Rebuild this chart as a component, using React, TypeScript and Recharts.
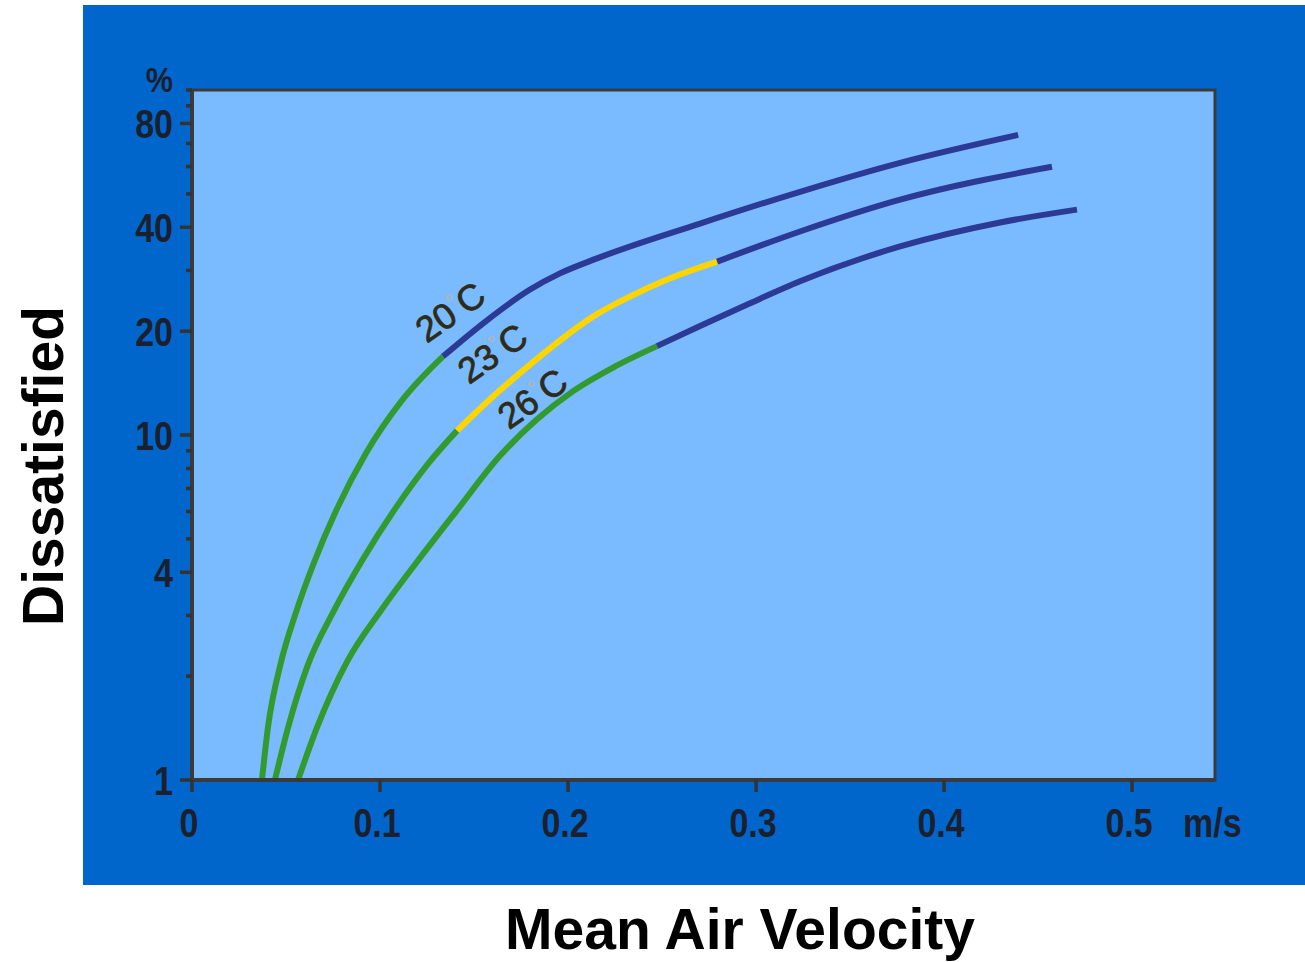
import { LineChart, Line, XAxis, YAxis, CartesianGrid, ReferenceArea, ReferenceDot } from 'recharts'

// mean air velocity (m/s) and percent dissatisfied
const velocity20 = [0.0372, 0.0404, 0.0473, 0.0553, 0.0649, 0.0766, 0.0926, 0.1122, 0.1335, 0.1564, 0.1798, 0.1957, 0.2154, 0.2702, 0.3234, 0.3766, 0.4394]
const dissatisfied20 = [1.0, 1.42, 2.19, 3.06, 4.27, 6.03, 8.87, 12.7, 16.9, 21.4, 26.4, 29.4, 32.5, 41.0, 50.7, 61.5, 74.1]

const velocity23 = [0.0441, 0.0511, 0.0617, 0.075, 0.0904, 0.108, 0.1255, 0.141, 0.1585, 0.1798, 0.2154, 0.233, 0.2505, 0.2793, 0.3234, 0.3766, 0.4574]
const dissatisfied23 = [1.0, 1.42, 2.16, 3.06, 4.32, 6.11, 8.25, 10.3, 12.7, 16.0, 22.4, 25.2, 27.9, 31.8, 38.9, 48.1, 59.9]

const velocity26 = [0.0564, 0.0665, 0.0824, 0.1005, 0.1191, 0.1404, 0.1638, 0.1835, 0.2027, 0.225, 0.2473, 0.2702, 0.2968, 0.3234, 0.3766, 0.4298, 0.4707]
const dissatisfied26 = [1.0, 1.42, 2.2, 3.1, 4.25, 6.0, 8.7, 11.1, 13.4, 15.8, 18.1, 20.7, 24.1, 27.9, 35.2, 41.3, 45.0]

// velocities where the line colour changes (green -> yellow -> blue)
const breaks20 = [0.1335]
const breaks23 = [0.141, 0.2793]
const breaks26 = [0.2473]

const xTicks = [0, 0.1, 0.2, 0.3, 0.4, 0.5]
const yTicks = [1, 2, 3, 4, 5, 6, 7, 8, 9, 10, 20, 30, 40, 50, 60, 70, 80, 90, 100]
const yMajor = [1, 4, 10, 20, 40, 80]

const curveLabels = [
  { temp: '20', x: 0.1372, y: 22.8 },
  { temp: '23', x: 0.1596, y: 17.3 },
  { temp: '26', x: 0.1809, y: 12.8 },
]

const X_MAX = 0.5441
const GREEN = '#339a2e'
const YELLOW = '#ffd500'
const NAVY = '#2c3a96'
const INK = '#1c1f2c'
const FONT = '"Liberation Sans", Arial, sans-serif'

function toPoints(vel: number[], dis: number[]) {
  return vel.map((x, i) => ({ x, y: dis[i] }))
}

function splitCurve(pts: { x: number; y: number }[], breaks: number[]) {
  const edges = [-Infinity, ...breaks, Infinity]
  const out = []
  for (let i = 0; i < edges.length - 1; i++) {
    out.push(pts.filter((p) => p.x >= edges[i] && p.x <= edges[i + 1]))
  }
  return out
}

const curves = [
  { segs: splitCurve(toPoints(velocity20, dissatisfied20), breaks20), colors: [GREEN, NAVY] },
  { segs: splitCurve(toPoints(velocity23, dissatisfied23), breaks23), colors: [GREEN, YELLOW, NAVY] },
  { segs: splitCurve(toPoints(velocity26, dissatisfied26), breaks26), colors: [GREEN, NAVY] },
]

function YTick(props: any) {
  const { x, y, payload } = props
  const v = payload.value
  const major = yMajor.includes(v)
  const label = v === 100 ? '%' : major ? String(v) : ''
  const dy = v === 100 ? 2 : 15
  return (
    <g>
      <line x1={x - (major ? 12 : 6)} x2={x} y1={y} y2={y} stroke="#333" strokeWidth={3.5} />
      {label && (
        <text
          transform={`translate(${x - 19},${y + dy}) scale(0.85,1)`}
          textAnchor="end"
          fontFamily={FONT}
          fontWeight={700}
          fontSize={v === 100 ? 36 : 40}
          fill={INK}
        >
          {label}
        </text>
      )}
    </g>
  )
}

function XTick(props: any) {
  const { x, y, payload } = props
  const v = payload.value
  return (
    <g>
      <line x1={x} x2={x} y1={y} y2={y + 12} stroke="#333" strokeWidth={3.5} />
      <text
        transform={`translate(${x - 3},${y + 57}) scale(0.85,1)`}
        textAnchor="middle"
        fontFamily={FONT}
        fontWeight={700}
        fontSize={40}
        fill={INK}
      >
        {String(v)}
      </text>
      {v === 0.5 && (
        <text
          transform={`translate(${x + 51},${y + 57}) scale(0.85,1)`}
          textAnchor="start"
          fontFamily={FONT}
          fontWeight={700}
          fontSize={40}
          fill={INK}
        >
          m/s
        </text>
      )}
    </g>
  )
}

const tempLabel = (temp: string) => (p: any) => (
  <text
    transform={`translate(${p.cx},${p.cy}) rotate(-35)`}
    textAnchor="middle"
    y={13}
    fontFamily={FONT}
    fontSize={36}
    fill="#2e2b18"
    stroke="#2e2b18"
    strokeWidth={0.8}
  >
    {temp}
    <tspan fill="#b9b3a4" stroke="none" fontSize={22} dy={-13}>°</tspan>
    <tspan dy={13}>C</tspan>
  </text>
)

export default function App() {
  return (
    <div style={{ position: 'absolute', left: 0, top: 0, width: 1305, height: 962, background: '#fff' }}>
      <div style={{ position: 'absolute', left: 83, top: 5, width: 1222, height: 880, background: '#0066cc' }} />
      <div style={{ position: 'absolute', left: 0, top: 0 }}>
        <LineChart width={1305} height={962} margin={{ top: 90, right: 90, bottom: 122, left: 92 }}>
          <CartesianGrid horizontal={false} vertical={false} fill="#7abbff" />
          <XAxis
            dataKey="x"
            type="number"
            domain={[0, X_MAX]}
            allowDataOverflow
            ticks={xTicks}
            interval={0}
            height={60}
            tickSize={0}
            tickMargin={0}
            tick={<XTick />}
            axisLine={{ stroke: '#3a3a3a', strokeWidth: 4 }}
          />
          <YAxis
            type="number"
            scale="log"
            domain={[1, 100]}
            allowDataOverflow
            ticks={yTicks}
            interval={0}
            width={100}
            tickSize={0}
            tickMargin={0}
            tick={<YTick />}
            axisLine={{ stroke: '#3a3a3a', strokeWidth: 4 }}
          />
          <ReferenceArea x1={0} x2={X_MAX} y1={1} y2={100} fill="none" stroke="#3a3a3a" strokeWidth={3} />
          {curves.map((c, ci) =>
            c.segs.map((seg, si) => (
              <Line
                key={`${ci}-${si}`}
                data={seg}
                dataKey="y"
                type="monotone"
                stroke={c.colors[si]}
                strokeWidth={6}
                dot={false}
                isAnimationActive={false}
              />
            ))
          )}
          {curveLabels.map((l) => (
            <ReferenceDot key={l.temp} x={l.x} y={l.y} r={0} shape={tempLabel(l.temp)} />
          ))}
        </LineChart>
      </div>
      <svg width={1305} height={962} style={{ position: 'absolute', left: 0, top: 0, pointerEvents: 'none' }}>
        <text
          transform="translate(43,466) rotate(-90)"
          y={20}
          textAnchor="middle"
          fontFamily={FONT}
          fontWeight={700}
          fontSize={57}
          fill="#000"
        >
          Dissatisfied
        </text>
        <text x={740} y={949} textAnchor="middle" fontFamily={FONT} fontWeight={700} fontSize={57} fill="#000">
          Mean Air Velocity
        </text>
      </svg>
    </div>
  )
}
